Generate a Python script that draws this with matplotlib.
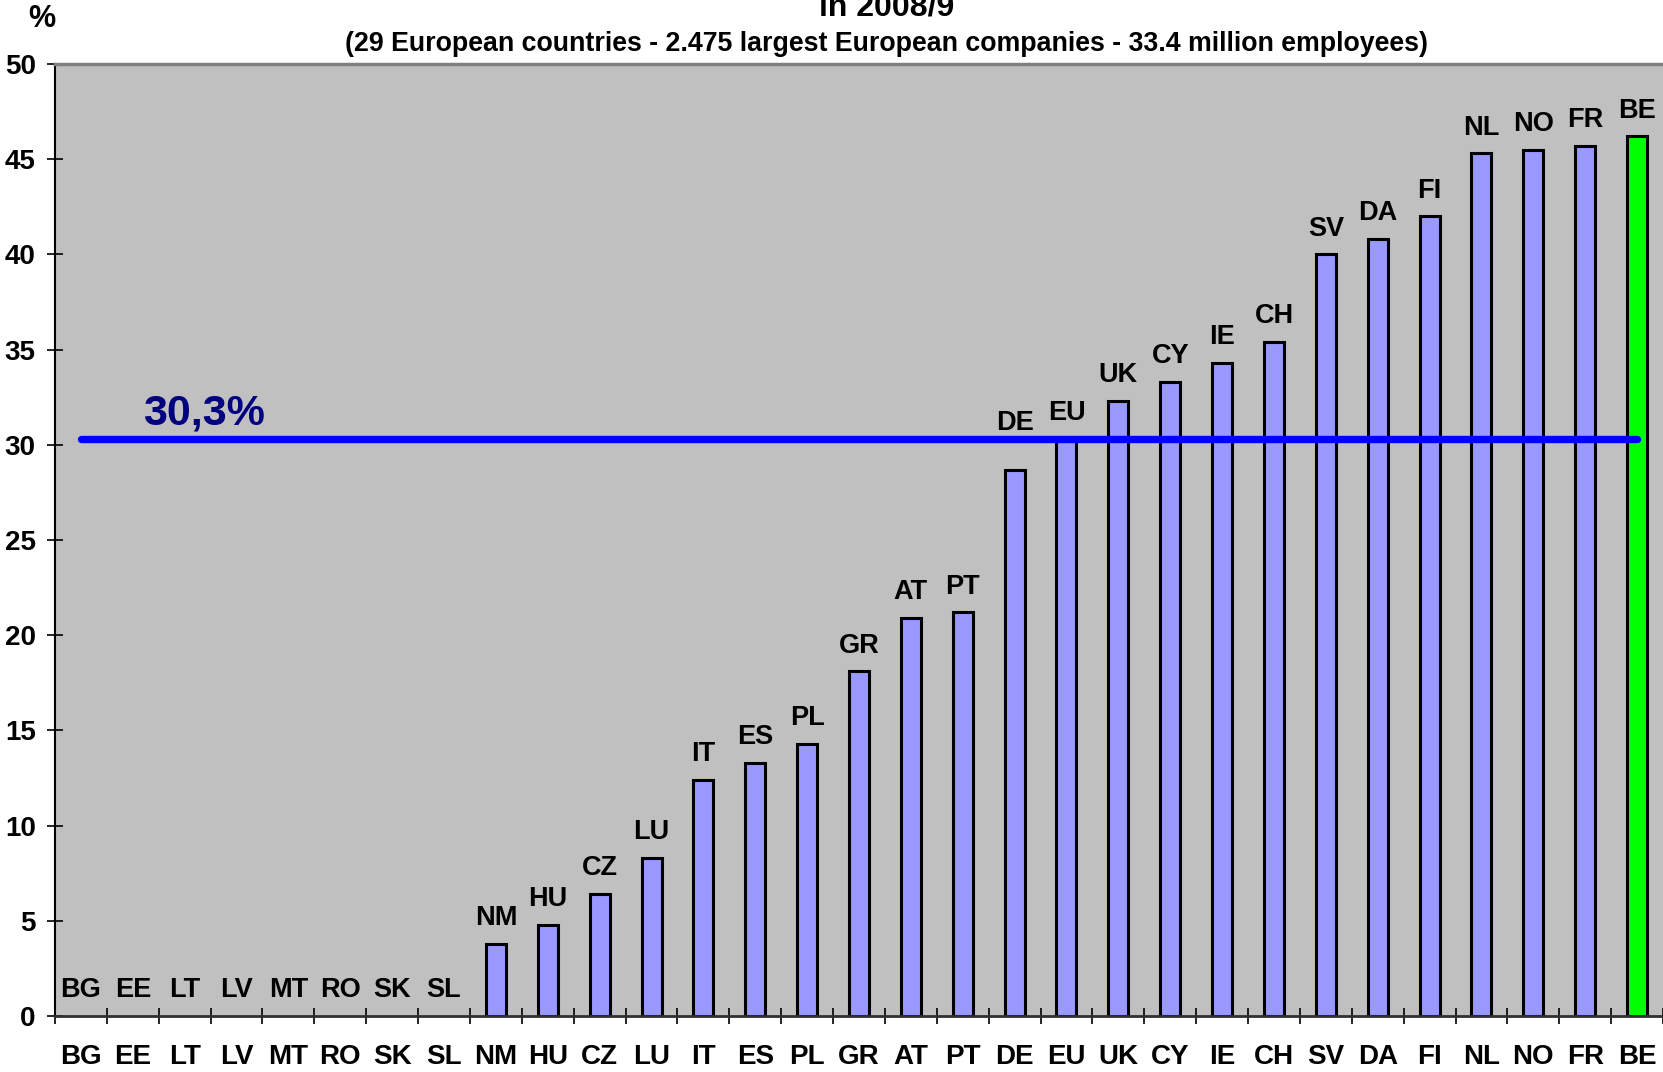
import numpy as np
import matplotlib
matplotlib.use("Agg")
import matplotlib.pyplot as plt

plt.rcParams['font.family'] = ['Liberation Sans', 'DejaVu Sans']
plt.rcParams['font.weight'] = 'bold'

countries = ['BG', 'EE', 'LT', 'LV', 'MT', 'RO', 'SK', 'SL', 'NM', 'HU', 'CZ',
             'LU', 'IT', 'ES', 'PL', 'GR', 'AT', 'PT', 'DE', 'EU', 'UK', 'CY',
             'IE', 'CH', 'SV', 'DA', 'FI', 'NL', 'NO', 'FR', 'BE']
values = [0, 0, 0, 0, 0, 0, 0, 0, 3.8, 4.8, 6.4,
          8.3, 12.4, 13.3, 14.3, 18.1, 20.9, 21.2, 28.7, 30.3, 32.3, 33.3,
          34.3, 35.4, 40.0, 40.8, 42.0, 45.3, 45.5, 45.7, 46.2]
average = 30.3
highlight = 'BE'
yticks = [0, 5, 10, 15, 20, 25, 30, 35, 40, 45, 50]
# the DE label was moved above the average line in the original
label_moved = {'DE': 30.8}

fig = plt.figure(figsize=(16.63, 10.72), dpi=100)
ax = fig.add_axes([55 / 1663, 1 - 1016 / 1072, 1 - 55 / 1663, (1016 - 64) / 1072])
ax.set_facecolor('#C0C0C0')

x = np.arange(len(countries))
for i, (c, v) in enumerate(zip(countries, values)):
    if v > 0:
        col = '#00FF00' if c == highlight else '#9999FF'
        ax.bar(i, v, width=0.385, color=col, edgecolor='black', linewidth=2.2, zorder=2)
    if c in label_moved:
        ax.text(i, label_moved[c], c, ha='center', va='baseline',
                fontsize=19.5, fontweight='bold', zorder=4)
    else:
        ax.annotate(c, (i, v), xytext=(0, 13.5), textcoords='offset points',
                    ha='center', va='baseline', fontsize=19.5, fontweight='bold', zorder=4)

# average line
ax.plot([0, len(countries) - 1], [average, average], color='#0000FF', lw=5.3,
        solid_capstyle='round', zorder=3)
ax.text(1.2, 31.05, '30,3%', color='#000080', fontsize=31, fontweight='bold',
        ha='left', va='baseline', zorder=4)

ax.set_xlim(-0.5, len(countries) - 0.5)
ax.set_ylim(0, 50)
ax.set_yticks(yticks)
ax.tick_params(axis='y', direction='inout', length=12, width=1.2, pad=7.8, labelsize=20)
ax.set_xticks(np.arange(-0.5, len(countries), 1))
ax.set_xticklabels([])
ax.tick_params(axis='x', which='major', direction='inout', length=12, width=1.2)
ax.set_xticks(x, minor=True)
ax.set_xticklabels(countries, minor=True)
ax.tick_params(axis='x', which='minor', length=0, pad=20.5, labelsize=20)

ax.spines['left'].set_color('black')
ax.spines['left'].set_linewidth(1.5)
ax.spines['bottom'].set_color('#303030')
ax.spines['bottom'].set_linewidth(2)
ax.spines['top'].set_color('#808080')
ax.spines['top'].set_linewidth(2.5)
ax.spines['right'].set_visible(False)

fig.text(0.533, 1 - 16 / 1072, 'in 2008/9', ha='center', va='baseline',
         fontsize=23, fontweight='bold')
fig.text(0.533, 1 - 51 / 1072,
         '(29 European countries - 2.475 largest European companies - 33.4 million employees)',
         ha='center', va='baseline', fontsize=19.3, fontweight='bold')
fig.text(42 / 1663, 1 - 18.6 / 1072, '%', ha='center', va='center',
         fontsize=22, fontweight='bold')

fig.savefig('out.png', dpi=100)
